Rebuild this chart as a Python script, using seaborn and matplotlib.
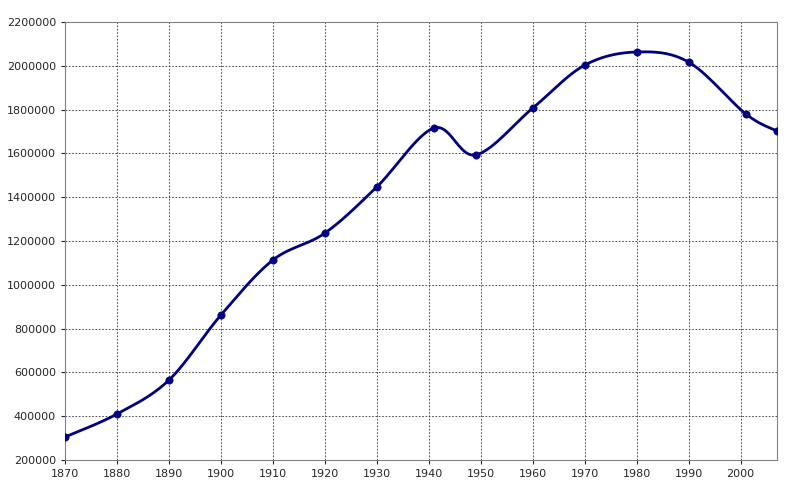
import numpy as np
import matplotlib
matplotlib.use("Agg")
import matplotlib.pyplot as plt
import seaborn as sns
from matplotlib.ticker import MultipleLocator, FuncFormatter

years = [1870, 1880, 1890, 1900, 1910, 1920, 1930, 1941, 1949, 1960, 1970, 1980, 1990, 2001, 2007]
population = [305000, 410000, 565000, 862000, 1113000, 1236000, 1447000, 1716000, 1593000,
              1807000, 2003000, 2063000, 2017000, 1780000, 1702000]

sns.set_style("white")
fig = plt.figure(figsize=(8, 4.98), dpi=100)
ax = fig.add_axes([65/800, 1-460/498, (777-65)/800, (460-22)/498])

# Excel-style smoothed line (Catmull-Rom Bezier between data points)
x = np.array(years, float); y = np.array(population, float)
px = np.concatenate([[x[0]], x, [x[-1]]]); py = np.concatenate([[y[0]], y, [y[-1]]])
cx, cy = [], []
t = np.linspace(0, 1, 30)
for i in range(1, len(px) - 2):
    p0 = np.array([px[i], py[i]]); p3 = np.array([px[i+1], py[i+1]])
    p1 = p0 + (np.array([px[i+1], py[i+1]]) - np.array([px[i-1], py[i-1]])) / 6
    p2 = p3 - (np.array([px[i+2], py[i+2]]) - np.array([px[i], py[i]])) / 6
    b = ((1-t)**3)[:, None]*p0 + (3*(1-t)**2*t)[:, None]*p1 + (3*(1-t)*t**2)[:, None]*p2 + (t**3)[:, None]*p3
    cx.extend(b[:, 0]); cy.extend(b[:, 1])
ax.plot(cx, cy, color="#000080", lw=2, zorder=3)
sns.scatterplot(x=years, y=population, ax=ax, color="#000080", marker="o", s=28,
                edgecolor="#000080", zorder=4)

ax.set_xlim(1870, 2007)
ax.set_ylim(200000, 2200000)
ax.xaxis.set_major_locator(MultipleLocator(10))
ax.yaxis.set_major_locator(MultipleLocator(200000))
ax.yaxis.set_major_formatter(FuncFormatter(lambda v, p: f"{int(v)}"))
ax.grid(True, color="#333333", linestyle=(0, (2, 2)), lw=0.6)
for s in ax.spines.values():
    s.set_color("#808080"); s.set_linewidth(0.8)
ax.tick_params(labelsize=8, length=3, direction="out", left=True, bottom=True)
ax.set_xlabel(""); ax.set_ylabel("")
fig.savefig("out.png", dpi=100)
